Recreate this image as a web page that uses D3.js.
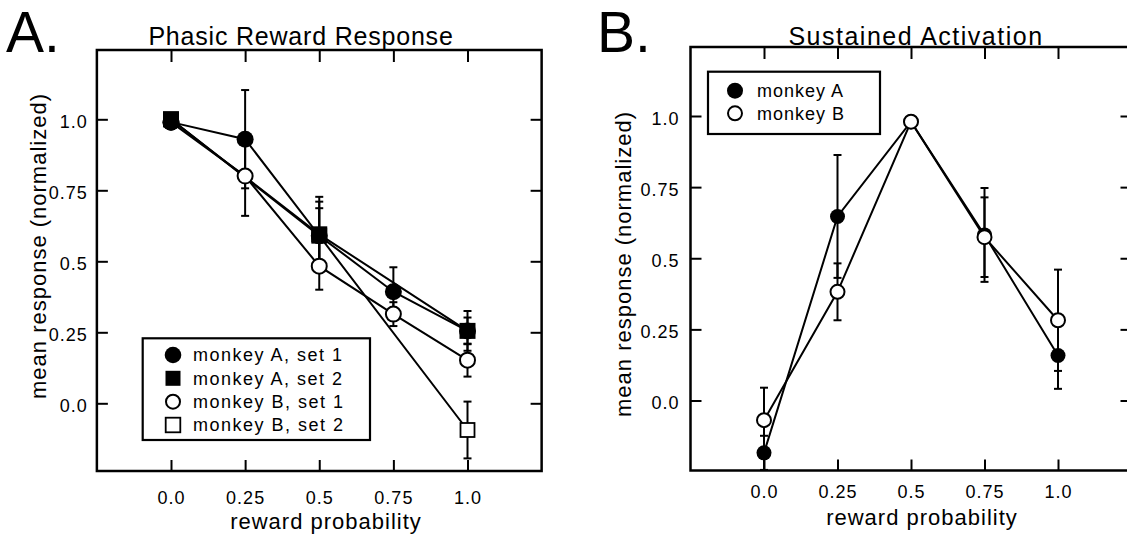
<!DOCTYPE html>
<html>
<head>
<meta charset="utf-8">
<script src="https://cdn.jsdelivr.net/npm/d3@7"></script>
<style>
  body { margin: 0; background: #fff; }
  svg { display: block; font-family: "Liberation Sans", Arial, sans-serif; }
</style>
</head>
<body>
<div id="chart"></div>
<script>
// ---- data ----
const probs = [0, 0.25, 0.5, 0.75, 1.0];
const probsSet2 = [0, 0.5, 1.0];
const tickLabels = ["0.0", "0.25", "0.5", "0.75", "1.0"];

// A. Phasic reward response
const phasicA1 = [0.99, 0.93, 0.59, 0.393, 0.255];
const phasicA1Err = [0, 0.173, 0.12, 0.086, 0.07];
const phasicA2 = [1.0, 0.595, 0.255];
const phasicA2Err = [0, 0.132, 0.047];
const phasicB1 = [0.99, 0.80, 0.483, 0.314, 0.152];
const phasicB1Err = [0, 0.14, 0.083, 0.042, 0.058];
const phasicB2 = [1.0, 0.59, -0.094];
const phasicB2Err = [0, 0.097, 0.1];

// B. Sustained activation
const sustA = [-0.184, 0.647, 0.98, 0.582, 0.158];
const sustAErr = [0.06, 0.216, 0, 0.165, 0.117];
const sustB = [-0.069, 0.382, 0.98, 0.574, 0.282];
const sustBErr = [0.114, 0.1, 0, 0.14, 0.178];

const legendA = ["monkey A, set 1", "monkey A, set 2", "monkey B, set 1", "monkey B, set 2"];
const legendB = ["monkey A", "monkey B"];

const W = 1127, H = 535;
const svg = d3.select("#chart").append("svg").attr("width", W).attr("height", H);

function panel(cfg) {
  const g = svg.append("g");
  const x = d3.scaleLinear().domain([0, 1]).range([cfg.x0, cfg.x1]);
  const y = d3.scaleLinear().domain([0, 1]).range([cfg.y0, cfg.y1]);
  const left = x(-0.25), right = x(1.25);
  const top = cfg.top, bottom = cfg.bottom;

  // frame
  g.append("rect")
    .attr("x", left).attr("y", top)
    .attr("width", right - left).attr("height", bottom - top)
    .attr("fill", "none").attr("stroke", "#000").attr("stroke-width", 2.5);

  const fmt = (d, i) => tickLabels[i];
  const styleAxis = sel => {
    sel.select(".domain").remove();
    sel.selectAll(".tick line").attr("stroke", "#000").attr("stroke-width", 2);
    sel.selectAll(".tick text")
      .attr("fill", "#000")
      .style("font-size", "18px")
      .style("letter-spacing", "1px")
      .style("font-family", "'Liberation Sans', Arial, sans-serif");
  };

  g.append("g").attr("transform", `translate(0,${bottom})`)
    .call(d3.axisBottom(x).tickValues(probs).tickFormat(fmt).tickSizeInner(-11).tickSizeOuter(0).tickPadding(cfg.xPad))
    .call(styleAxis);
  g.append("g").attr("transform", `translate(0,${top})`)
    .call(d3.axisTop(x).tickValues(probs).tickFormat("").tickSizeInner(-12).tickSizeOuter(0))
    .call(styleAxis);
  g.append("g").attr("transform", `translate(${left},0)`)
    .call(d3.axisLeft(y).tickValues(probs).tickFormat(fmt).tickSizeInner(-11).tickSizeOuter(0).tickPadding(cfg.yPad))
    .call(styleAxis)
    .selectAll(".tick text").attr("dy", "0.45em");
  g.append("g").attr("transform", `translate(${right},0)`)
    .call(d3.axisRight(y).tickValues(probs).tickFormat("").tickSizeInner(-11).tickSizeOuter(0))
    .call(styleAxis);

  // titles and axis labels
  g.append("text").attr("x", cfg.titleX).attr("y", 45)
    .attr("text-anchor", "middle").style("font-size", cfg.titleSize + "px")
    .style("letter-spacing", cfg.titleLs + "px").text(cfg.title);
  g.append("text").attr("x", cfg.letterX).attr("y", 52)
    .style("font-size", "57px").text(cfg.letter);
  g.append("text").attr("x", cfg.xLabelX).attr("y", cfg.xLabelY)
    .attr("text-anchor", "middle").style("font-size", "22px")
    .style("letter-spacing", "1px").text("reward probability");
  g.append("text")
    .attr("transform", `translate(${cfg.yLabelX},${cfg.yLabelY}) rotate(-90)`)
    .attr("text-anchor", "middle").style("font-size", "22px")
    .style("letter-spacing", "1px").text("mean response (normalized)");

  return { g, x, y };
}

function series(p, xs, ys, errs, shape, filled, size) {
  const pts = xs.map((d, i) => ({ x: d, y: ys[i], e: errs[i] }));
  const line = d3.line().x(d => p.x(d.x)).y(d => p.y(d.y));
  p.g.append("path").datum(pts).attr("d", line)
    .attr("fill", "none").attr("stroke", "#000").attr("stroke-width", 2);
  return pts.map(d => ({ ...d, shape, filled, size }));
}

function drawErrors(p, pts) {
  const eb = p.g.append("g").attr("stroke", "#000").attr("stroke-width", 2);
  pts.filter(d => d.e > 0).forEach(d => {
    const cx = p.x(d.x);
    const yt = p.y(d.y + d.e), yb = p.y(d.y - d.e);
    eb.append("line").attr("x1", cx).attr("x2", cx).attr("y1", yt).attr("y2", yb);
    eb.append("line").attr("x1", cx - 4).attr("x2", cx + 4).attr("y1", yt).attr("y2", yt);
    eb.append("line").attr("x1", cx - 4).attr("x2", cx + 4).attr("y1", yb).attr("y2", yb);
  });
}

function marker(sel, shape, filled, size) {
  if (shape === "circle") {
    sel.append("circle").attr("r", filled ? size : size - 1)
      .attr("fill", filled ? "#000" : "#fff")
      .attr("stroke", "#000").attr("stroke-width", filled ? 0 : 2);
  } else {
    const s = filled ? size * 2 : size * 2 - 2;
    sel.append("rect").attr("x", -s / 2).attr("y", -s / 2).attr("width", s).attr("height", s)
      .attr("fill", filled ? "#000" : "#fff")
      .attr("stroke", "#000").attr("stroke-width", filled ? 0 : 1.8);
  }
}

function drawMarkers(p, pts) {
  pts.forEach(d => {
    const m = p.g.append("g").attr("transform", `translate(${p.x(d.x)},${p.y(d.y)})`);
    marker(m, d.shape, d.filled, d.size);
  });
}

function legend(p, box, labels, specs, rowY, markX, textX, fs, ls) {
  p.g.append("rect").attr("x", box[0]).attr("y", box[1])
    .attr("width", box[2] - box[0]).attr("height", box[3] - box[1])
    .attr("fill", "#fff").attr("stroke", "#000").attr("stroke-width", 2.2);
  labels.forEach((lab, i) => {
    const row = p.g.append("g").attr("transform", `translate(0,${rowY[i]})`);
    const m = row.append("g").attr("transform", `translate(${markX},0)`);
    marker(m, specs[i][0], specs[i][1], specs[i][2]);
    row.append("text").attr("x", textX).attr("dy", "0.36em")
      .style("font-size", fs + "px").style("letter-spacing", ls + "px").text(lab);
  });
}

// ---- Panel A ----
const pA = panel({
  x0: 171, x1: 467.5, y0: 403.3, y1: 119.3, top: 50, bottom: 471,
  xPad: 20, yPad: 9, title: "Phasic Reward Response", titleX: 301, titleSize: 25, titleLs: 0.8,
  letter: "A.", letterX: 6, xLabelX: 326, xLabelY: 529, yLabelX: 46, yLabelY: 246
});
const aPts = [
  ...series(pA, probsSet2, phasicA2, phasicA2Err, "square", true, 8),
  ...series(pA, probsSet2, phasicB2, phasicB2Err, "square", false, 8),
  ...series(pA, probs, phasicA1, phasicA1Err, "circle", true, 8.5),
  ...series(pA, probs, phasicB1, phasicB1Err, "circle", false, 8.5)
];
drawErrors(pA, aPts);
drawMarkers(pA, aPts.filter(d => !d.filled));
drawMarkers(pA, aPts.filter(d => d.filled));
legend(pA, [142.7, 338.3, 370, 440], legendA,
  [["circle", true, 8.3], ["square", true, 7.5], ["circle", false, 8], ["square", false, 8.3]],
  [355, 378.3, 401.7, 425], 173, 193, 18, 1.5);

// ---- Panel B ----
const pB = panel({
  x0: 764, x1: 1058, y0: 400.5, y1: 116, top: 47, bottom: 470.5,
  xPad: 15, yPad: 11, title: "Sustained Activation", titleX: 916, titleSize: 25, titleLs: 1.5,
  letter: "B.", letterX: 597, xLabelX: 922, xLabelY: 525, yLabelX: 631, yLabelY: 264
});
const bPts = [
  ...series(pB, probs, sustA, sustAErr, "circle", true, 7.5),
  ...series(pB, probs, sustB, sustBErr, "circle", false, 8)
];
drawErrors(pB, bPts);
drawMarkers(pB, bPts.filter(d => d.filled));
drawMarkers(pB, bPts.filter(d => !d.filled));
legend(pB, [708, 71.7, 880, 134], legendB,
  [["circle", true, 8], ["circle", false, 8]],
  [90.7, 113.3], 735, 757, 18, 1);
</script>
</body>
</html>
